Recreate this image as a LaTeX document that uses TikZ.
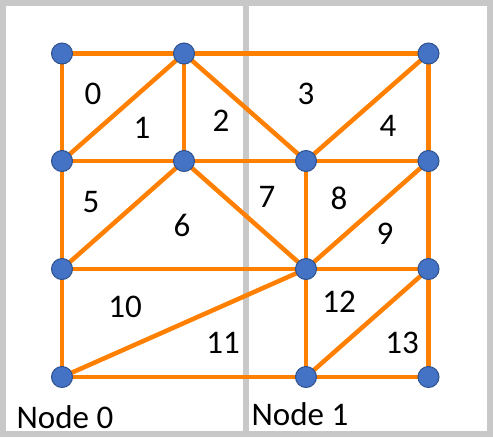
\documentclass[tikz,border=0pt]{standalone}
\usepackage{fontspec}
\setmainfont{Carlito}
\usepackage{xcolor}
\usepackage{tikz}
\usetikzlibrary{positioning}
\definecolor{meshedge}{RGB}{255, 127, 0}
\definecolor{vertfill}{RGB}{68, 114, 196}
\definecolor{vertline}{RGB}{47, 82, 143}
\definecolor{partline}{RGB}{200, 200, 200}
\tikzset{
	vert/.style={circle, fill=vertfill, draw=vertline, line width=1pt, minimum size=21pt, inner sep=0pt},
	meshline/.style={draw=meshedge, line width=4.5pt},
	cellnum/.style={font=\fontsize{33}{39}\selectfont, inner sep=0pt},
}

\begin{document}
\begin{tikzpicture}[x=1pt, y=-1pt]
			\useasboundingbox (0,0) rectangle (493,437);
			\draw[partline, line width=6pt] (3,3) rectangle (489.5,434);
			\draw[partline, line width=6pt] (245.5,3) -- (245.5,434);
			
			\coordinate (a1) at (62,53.5);
			\coordinate (a2) at (184,53.5);
			\coordinate (a4) at (428.5,53.5);
			\coordinate (b1) at (62,161);
			\coordinate (b2) at (184,161);
			\coordinate (b3) at (306,161);
			\coordinate (b4) at (428.5,161);
			\coordinate (c1) at (62,269);
			\coordinate (c3) at (306,269);
			\coordinate (c4) at (428.5,269);
			\coordinate (d1) at (62,377);
			\coordinate (d3) at (306,377);
			\coordinate (d4) at (428.5,377);
			
			\draw[meshline] (a1) -- (a2) -- (a4) -- (b4) -- (c4) -- (d4) -- (d3) -- (d1) -- (c1) -- (b1) -- (a1);
			\draw[meshline] (b1) -- (b2) -- (b3) -- (b4);
			\draw[meshline] (c1) -- (c3) -- (c4);
			\draw[meshline] (a2) -- (b1);
			\draw[meshline] (a2) -- (b2);
			\draw[meshline] (a2) -- (b3);
			\draw[meshline] (a4) -- (b3);
			\draw[meshline] (b2) -- (c1);
			\draw[meshline] (b2) -- (c3);
			\draw[meshline] (b3) -- (c3);
			\draw[meshline] (b4) -- (c3);
			\draw[meshline] (c3) -- (d1);
			\draw[meshline] (c3) -- (d3);
			\draw[meshline] (c4) -- (d3);
			
			\foreach \v in {a1,a2,a4,b1,b2,b3,b4,c1,c3,c4,d1,d3,d4}
				\node[vert] (v\v) at (\v) {};
			
			\node[cellnum] (t0) at (93,94) {0};
			\node[cellnum] (t1) at (142,128) {1};
			\node[cellnum] (t2) at (221,121) {2};
			\node[cellnum] (t3) at (306,94) {3};
			\node[cellnum] (t4) at (388,126) {4};
			\node[cellnum] (t5) at (91,202) {5};
			\node[cellnum] (t6) at (182,225) {6};
			\node[cellnum] (t7) at (267,197) {7};
			\node[cellnum] (t8) at (339,198) {8};
			\node[cellnum] (t9) at (385,234) {9};
			\node[cellnum] (t10) at (125,307) {10};
			\node[cellnum] (t11) at (223,343) {11};
			\node[cellnum] (t12) at (339,302) {12};
			\node[cellnum] (t13) at (402,343) {13};
			
			\node[cellnum] (part0) at (65,417) {Node 0};
			\node[cellnum] (part1) at (300,414) {Node 1};
		\end{tikzpicture}
\end{document}
